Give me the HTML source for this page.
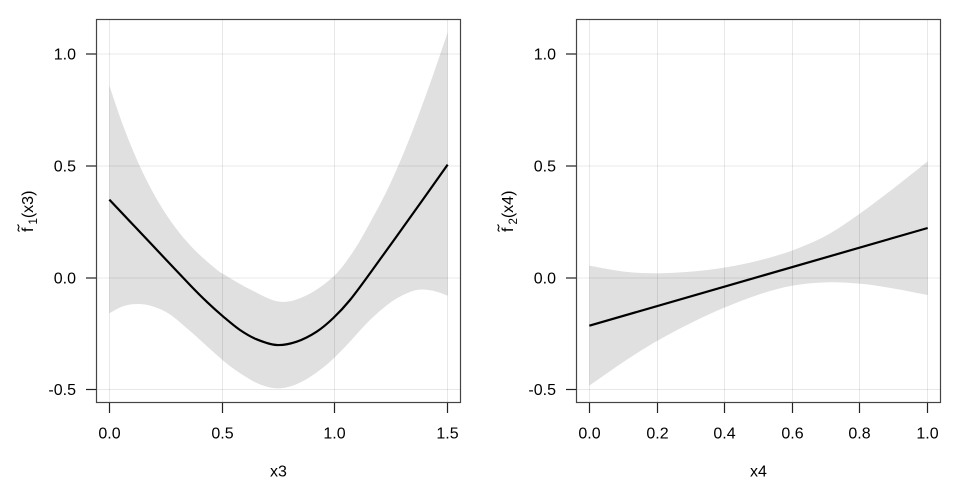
<!DOCTYPE html>
<html>
<head>
<meta charset="utf-8">
<style>
html,body{margin:0;padding:0;background:#fff;}
svg{display:block;}
text{font-family:"Liberation Sans",Arial,sans-serif;fill:#000;}
</style>
</head>
<body>
<svg id="s" width="960" height="480" viewBox="0 0 960 480" xmlns="http://www.w3.org/2000/svg">
<rect width="960" height="480" fill="#fff"/>
<g id="bands"></g>
<g id="grid" stroke="rgba(0,0,0,0.09)" stroke-width="1" fill="none">
<line x1="109.5" y1="19" x2="109.5" y2="403"/>
<line x1="222.5" y1="19" x2="222.5" y2="403"/>
<line x1="334.5" y1="19" x2="334.5" y2="403"/>
<line x1="447.5" y1="19" x2="447.5" y2="403"/>
<line x1="96" y1="54" x2="461" y2="54"/>
<line x1="96" y1="166" x2="461" y2="166"/>
<line x1="96" y1="278" x2="461" y2="278"/>
<line x1="96" y1="389.5" x2="461" y2="389.5"/>
<line x1="589.5" y1="19" x2="589.5" y2="403"/>
<line x1="657.5" y1="19" x2="657.5" y2="403"/>
<line x1="724.5" y1="19" x2="724.5" y2="403"/>
<line x1="792.5" y1="19" x2="792.5" y2="403"/>
<line x1="859.5" y1="19" x2="859.5" y2="403"/>
<line x1="927.5" y1="19" x2="927.5" y2="403"/>
<line x1="576" y1="54" x2="941" y2="54"/>
<line x1="576" y1="166" x2="941" y2="166"/>
<line x1="576" y1="278" x2="941" y2="278"/>
<line x1="576" y1="389.5" x2="941" y2="389.5"/>
</g>
<g id="lines"></g>

<rect x="96.5" y="19.5" width="364" height="383" fill="none" stroke="#444" stroke-width="1.2"/>
<rect x="576.5" y="19.5" width="364" height="383" fill="none" stroke="#444" stroke-width="1.2"/>

<g stroke="#222" stroke-width="1.2">
<line x1="86" y1="54" x2="96" y2="54"/>
<line x1="86" y1="166" x2="96" y2="166"/>
<line x1="86" y1="278" x2="96" y2="278"/>
<line x1="86" y1="389.5" x2="96" y2="389.5"/>
<line x1="109.5" y1="403" x2="109.5" y2="413"/>
<line x1="222.5" y1="403" x2="222.5" y2="413"/>
<line x1="334.5" y1="403" x2="334.5" y2="413"/>
<line x1="447.5" y1="403" x2="447.5" y2="413"/>
<line x1="566" y1="54" x2="576" y2="54"/>
<line x1="566" y1="166" x2="576" y2="166"/>
<line x1="566" y1="278" x2="576" y2="278"/>
<line x1="566" y1="389.5" x2="576" y2="389.5"/>
<line x1="589.5" y1="403" x2="589.5" y2="413"/>
<line x1="657.5" y1="403" x2="657.5" y2="413"/>
<line x1="724.5" y1="403" x2="724.5" y2="413"/>
<line x1="792.5" y1="403" x2="792.5" y2="413"/>
<line x1="859.5" y1="403" x2="859.5" y2="413"/>
<line x1="927.5" y1="403" x2="927.5" y2="413"/>
</g>

<g font-size="16" text-anchor="end">
<text x="76" y="59.5">1.0</text>
<text x="76" y="171.5">0.5</text>
<text x="76" y="283.5">0.0</text>
<text x="76" y="395">-0.5</text>
<text x="556" y="59.5">1.0</text>
<text x="556" y="171.5">0.5</text>
<text x="556" y="283.5">0.0</text>
<text x="556" y="395">-0.5</text>
</g>
<g font-size="16" text-anchor="middle">
<text x="109.5" y="438.5">0.0</text>
<text x="222.5" y="438.5">0.5</text>
<text x="334.5" y="438.5">1.0</text>
<text x="447.5" y="438.5">1.5</text>
<text x="589.5" y="438.5">0.0</text>
<text x="657.5" y="438.5">0.2</text>
<text x="724.5" y="438.5">0.4</text>
<text x="792.5" y="438.5">0.6</text>
<text x="859.5" y="438.5">0.8</text>
<text x="927.5" y="438.5">1.0</text>
<text x="278.5" y="476.5">x3</text>
<text x="758.5" y="476.5">x4</text>
</g>

<g transform="translate(33,212) rotate(-90)" font-size="16">
<text x="-20" y="0">f<tspan font-size="11.5" dx="3" dy="4">1</tspan><tspan dy="-4">(x3)</tspan></text>
<path d="M-19.5,-13.5 C-17.5,-17.5 -15.5,-11.5 -12.5,-15.5" fill="none" stroke="#000" stroke-width="1.1"/>
</g>
<g transform="translate(513,212) rotate(-90)" font-size="16">
<text x="-20" y="0">f<tspan font-size="11.5" dx="3" dy="4">2</tspan><tspan dy="-4">(x4)</tspan></text>
<path d="M-19.5,-13.5 C-17.5,-17.5 -15.5,-11.5 -12.5,-15.5" fill="none" stroke="#000" stroke-width="1.1"/>
</g>
</svg>
<script>
(function(){
  var NS="http://www.w3.org/2000/svg";
  function conv(pts,ox){return pts.map(function(p){return [ox+p[0]/3,19+p[1]/3];});}
  function cr(p,start){
    var d=start?("M"+p[0][0].toFixed(2)+","+p[0][1].toFixed(2)):("L"+p[0][0].toFixed(2)+","+p[0][1].toFixed(2));
    for(var i=0;i<p.length-1;i++){
      var p0=p[i-1]||p[i],p1=p[i],p2=p[i+1],p3=p[i+2]||p[i+1];
      var c1x=p1[0]+(p2[0]-p0[0])/6,c1y=p1[1]+(p2[1]-p0[1])/6;
      var c2x=p2[0]-(p3[0]-p1[0])/6,c2y=p2[1]-(p3[1]-p1[1])/6;
      d+=" C"+c1x.toFixed(2)+","+c1y.toFixed(2)+" "+c2x.toFixed(2)+","+c2y.toFixed(2)+" "+p2[0].toFixed(2)+","+p2[1].toFixed(2);
    }
    return d;
  }
  function add(g,d,attrs){
    var e=document.createElementNS(NS,"path");e.setAttribute("d",d);
    for(var k in attrs)e.setAttribute(k,attrs[k]);
    document.getElementById(g).appendChild(e);
  }
  var L={ox:96,
    mean:[[40,542],[162,671],[282,798],[332,848],[382,893],[432,933],[482,961],[542,978],[602,968],[662,938],[712,897],[762,843],[827,756],[942,596],[1055,437]],
    up:[[40,200],[80,316],[120,416],[160,500],[200,570],[240,628],[280,676],[320,716],[360,750],[380,764],[460,810],[550,848],[630,830],[712,773],[770,700],[820,615],[880,500],[940,360],[1000,200],[1055,40]],
    lo:[[40,883],[80,862],[125,855],[170,862],[220,885],[282,936],[340,988],[400,1040],[460,1080],[500,1099],[545,1108],[590,1100],[640,1075],[700,1030],[760,970],[820,905],[880,853],[930,824],[970,812],[1010,815],[1055,830]]};
  var R={ox:576,
    mean:[[40,920],[1055,627]],
    up:[[40,740],[145,758],[245,763],[345,758],[445,746],[550,724],[650,694],[750,650],[850,585],[950,510],[1055,427]],
    lo:[[40,1100],[145,1027],[245,965],[345,912],[445,866],[550,826],[650,800],[750,790],[850,794],[950,808],[1055,828]]};
  [L,R].forEach(function(P){
    var up=conv(P.up,P.ox),lo=conv(P.lo,P.ox).reverse();
    add("bands",cr(up,true)+" "+cr(lo,false)+" Z",{fill:"#e0e0e0",stroke:"none"});
    var m=conv(P.mean,P.ox);
    add("lines",cr(m,true),{fill:"none",stroke:"#000","stroke-width":"2.2","stroke-linejoin":"round"});
  });
})();
</script>
</body>
</html>
